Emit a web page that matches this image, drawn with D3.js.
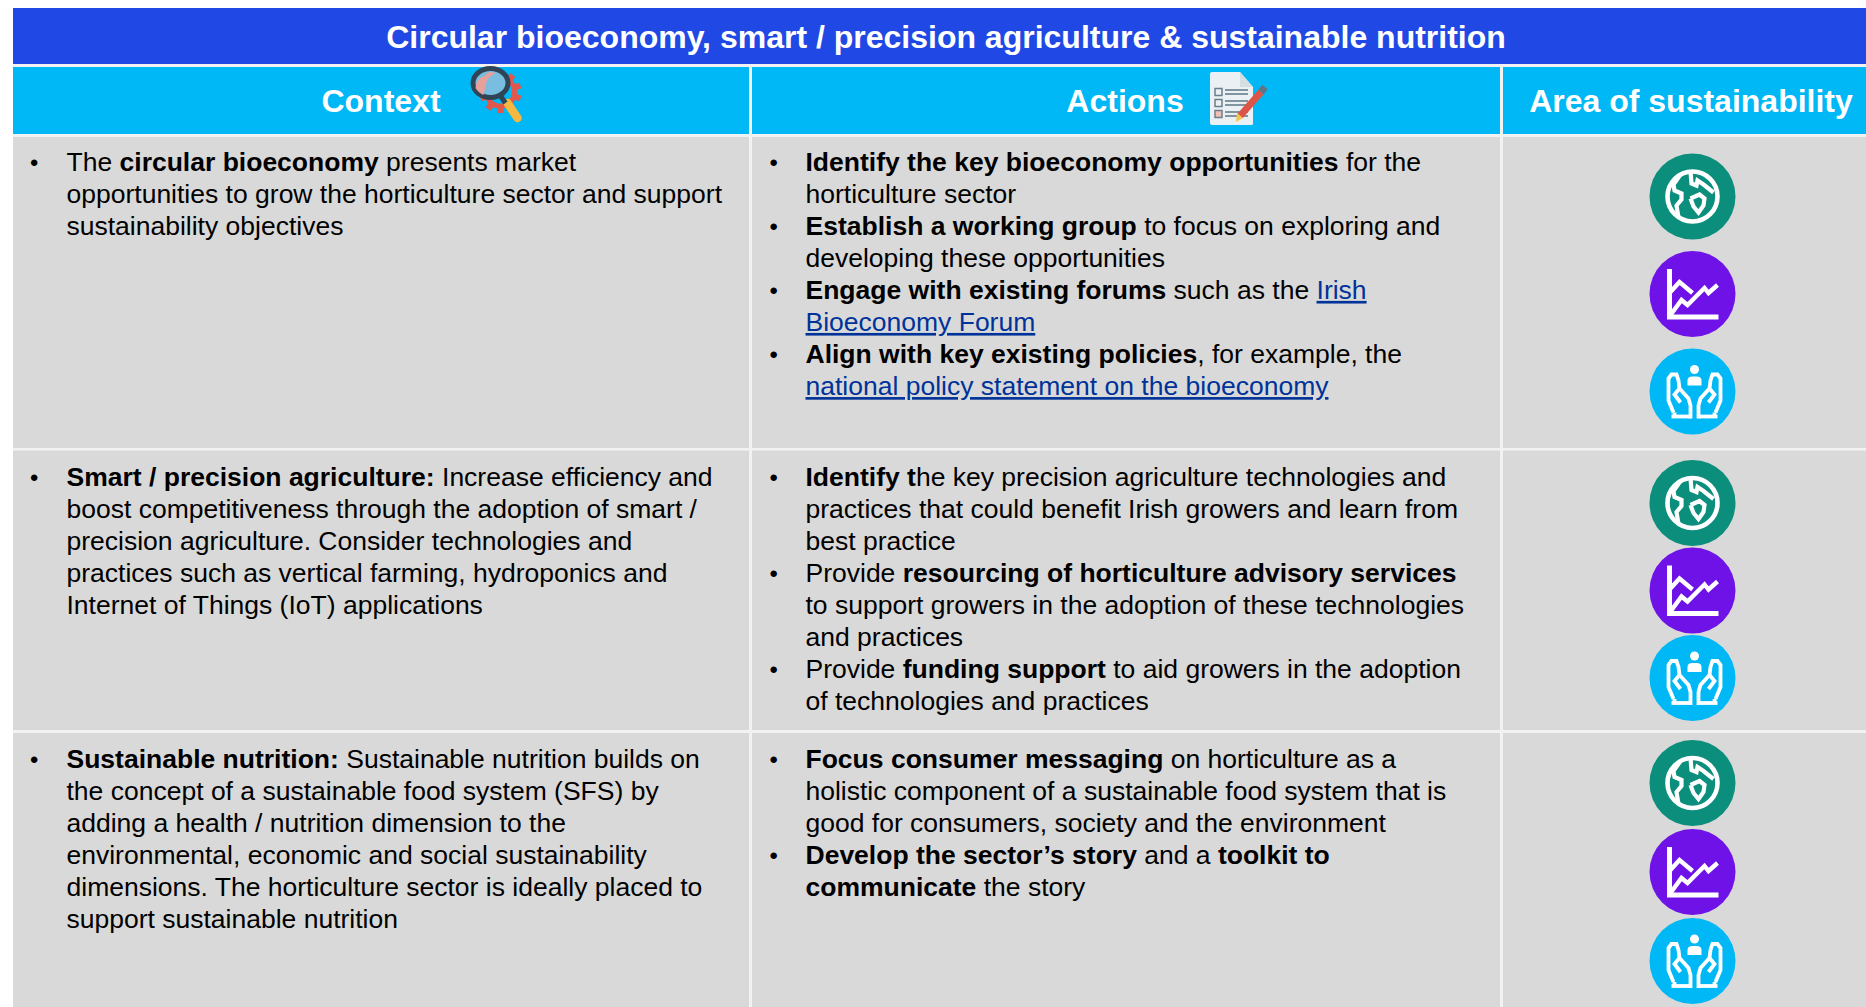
<!DOCTYPE html>
<html><head><meta charset="utf-8">
<script src="https://cdn.jsdelivr.net/npm/d3@7"></script>
<style>html,body{margin:0;padding:0;background:#fff;overflow:hidden}svg{display:block}text{font-family:"Liberation Sans",Arial,sans-serif;text-decoration-skip-ink:none}tspan{text-decoration-skip-ink:none}</style>
</head><body><svg id="c" width="1866" height="1007"></svg>
<script>
// ---- content (b = bold, n = normal, a = link); a line starting with "•" opens a bullet
const title = "Circular bioeconomy, smart / precision agriculture & sustainable nutrition";
const headers = ["Context", "Actions", "Area of sustainability"];
const contextLines = [
 [
  ["•", ["n","The "],["b","circular bioeconomy"],["n"," presents market"]],
  ["", ["n","opportunities to grow the horticulture sector and support"]],
  ["", ["n","sustainability objectives"]]
 ],[
  ["•", ["b","Smart / precision agriculture:"],["n"," Increase efficiency and"]],
  ["", ["n","boost competitiveness through the adoption of smart /"]],
  ["", ["n","precision agriculture. Consider technologies and"]],
  ["", ["n","practices such as vertical farming, hydroponics and"]],
  ["", ["n","Internet of Things (IoT) applications"]]
 ],[
  ["•", ["b","Sustainable nutrition:"],["n"," Sustainable nutrition builds on"]],
  ["", ["n","the concept of a sustainable food system (SFS) by"]],
  ["", ["n","adding a health / nutrition dimension to the"]],
  ["", ["n","environmental, economic and social sustainability"]],
  ["", ["n","dimensions. The horticulture sector is ideally placed to"]],
  ["", ["n","support sustainable nutrition"]]
 ]];
const actionLines = [
 [
  ["•", ["b","Identify the key bioeconomy opportunities"],["n"," for the"]],
  ["", ["n","horticulture sector"]],
  ["•", ["b","Establish a working group"],["n"," to focus on exploring and"]],
  ["", ["n","developing these opportunities"]],
  ["•", ["b","Engage with existing forums"],["n"," such as the "],["a","Irish"]],
  ["", ["a","Bioeconomy Forum"]],
  ["•", ["b","Align with key existing policies"],["n",", for example, the"]],
  ["", ["a","national policy statement on the bioeconomy"]]
 ],[
  ["•", ["b","Identify t"],["n","he key precision agriculture technologies and"]],
  ["", ["n","practices that could benefit Irish growers and learn from"]],
  ["", ["n","best practice"]],
  ["•", ["n","Provide "],["b","resourcing of horticulture advisory services"]],
  ["", ["n","to support growers in the adoption of these technologies"]],
  ["", ["n","and practices"]],
  ["•", ["n","Provide "],["b","funding support"],["n"," to aid growers in the adoption"]],
  ["", ["n","of technologies and practices"]]
 ],[
  ["•", ["b","Focus consumer messaging"],["n"," on horticulture as a"]],
  ["", ["n","holistic component of a sustainable food system that is"]],
  ["", ["n","good for consumers, society and the environment"]],
  ["•", ["b","Develop the sector’s story"],["n"," and a "],["b","toolkit to"]],
  ["", ["b","communicate"],["n"," the story"]]
 ]];
const areaIcons = ["globe","chart","hands"];

// ---- layout
const X0=13, W=1866, colSep=[750.5,1501.5];
const rowTops=[137,450.5,733], rowBottoms=[448,730,1007];
const baselines=[170.7,486,768], lineH=32.05;
const iconY=[[196.5,294,391.5],[503,590.5,678],[783,872,961]];
const fs=26.5;
const C={title:"#1F48E5",head:"#00B8F6",body:"#D9D9D9",sep:"#F2F2F2",link:"#003399",teal:"#0B8E7B",purple:"#6E12E8",blue:"#00B8F6"};
const svg=d3.select("#c");

svg.append("rect").attr("x",X0).attr("y",64).attr("width",W-X0).attr("height",W).attr("fill",C.sep);
svg.append("rect").attr("x",X0).attr("y",8).attr("width",W-X0).attr("height",56).attr("fill",C.title);
svg.append("text").attr("x",946).attr("y",48).attr("text-anchor","middle").attr("fill","#fff").attr("font-weight","700").attr("font-size",32).text(title);

const cols=[[X0,colSep[0]-1.5],[colSep[0]+1.5,colSep[1]-1.5],[colSep[1]+1.5,W]];
svg.selectAll(".h").data(cols).join("rect").attr("x",d=>d[0]).attr("y",67).attr("width",d=>d[1]-d[0]).attr("height",67).attr("fill",C.head);
const headX=[381,1125,1691];
svg.selectAll(".ht").data(headers).join("text").attr("x",(d,i)=>headX[i]).attr("y",112).attr("text-anchor","middle").attr("fill","#fff").attr("font-weight","700").attr("font-size",32).text(d=>d);

rowTops.forEach((t,r)=>{
  svg.selectAll(null).data(cols).join("rect").attr("x",d=>d[0]).attr("y",t).attr("width",d=>d[1]-d[0]).attr("height",rowBottoms[r]-t).attr("fill",C.body);
});

function drawLines(lines,base,bx,tx){
  const y=d3.scaleLinear().domain([0,1]).range([base,base+lineH]);
  lines.forEach((ln,i)=>{
    if(ln[0]) svg.append("text").attr("x",bx).attr("y",y(i)).attr("font-size",fs*0.9).text(ln[0]);
    const t=svg.append("text").attr("x",tx).attr("y",y(i)).attr("font-size",fs).attr("xml:space","preserve").style("white-space","pre");
    t.selectAll("tspan").data(ln.slice(1)).join("tspan")
      .attr("font-weight",d=>d[0]=="b"?700:400)
      .attr("fill",d=>d[0]=="a"?C.link:"#000")
      .attr("text-decoration",d=>d[0]=="a"?"underline":null)
      .text(d=>d[1]);
  });
}
contextLines.forEach((l,r)=>drawLines(l,baselines[r],30,66.5));
actionLines.forEach((l,r)=>drawLines(l,baselines[r],769.5,805.5));

// ---- area icons
function icon(g,kind){
  const line=d3.line();
  const stroke=(pts,sw=4)=>g.append("path").attr("d",line(pts)).attr("fill","none").attr("stroke","#fff").attr("stroke-width",sw).attr("stroke-linejoin","miter");
  if(kind=="globe"){
    g.append("circle").attr("r",43).attr("fill",C.teal);
    g.append("circle").attr("r",25).attr("fill","none").attr("stroke","#fff").attr("stroke-width",4.6);
    stroke([[-12,-22],[-19,-12],[-18,-6],[-11,-3],[-11,3],[-16,9],[-14,21]],4.2);
    stroke([[-2,-25],[-1,-13],[4,-11],[5,-16],[11,-12],[21,-4]],4.2);
    stroke([[-2,2],[7,-2],[12,2],[11,9],[6,16],[1,10],[-2,2]],4.2);
  } else if(kind=="chart"){
    g.append("circle").attr("r",43).attr("fill",C.purple);
    stroke([[-23,-25],[-23,23],[26,23]],5);
    stroke([[-23,-1],[-13,-12],[0,-1]],4.4);
    stroke([[-22,21],[-11,6],[-5,11],[12,-6],[16,-1],[25,-9]],4.4);
  } else {
    g.append("circle").attr("r",43).attr("fill",C.blue);
    const h=g.append("g").attr("transform","translate(2,0)");
    h.append("circle").attr("cy",-22).attr("r",4.5).attr("fill","#fff");
    h.append("path").attr("d","M-7,-6 L-7,-11 Q-7,-15 -2,-15 L2,-15 Q7,-15 7,-11 L7,-6 Z").attr("fill","#fff");
    [1,-1].forEach(s=>{
      const m=h.append("g").attr("transform",`scale(${s},1)`);
      const hp=(pts)=>m.append("path").attr("d",line(pts)).attr("fill","none").attr("stroke","#fff").attr("stroke-width",3.8);
      hp([[-21,21],[-26,9],[-26,-13],[-23,-17],[-18,-17],[-16,-11],[-15,-3],[-6,7],[-4,14],[-4,27]]);
      hp([[-15,-3],[-20,3],[-14,11]]);
      hp([[-23,25],[-4,25]]);
      hp([[-20,21],[-20,25]]);
    });
  }
}
iconY.forEach(ys=>ys.forEach((y,i)=>{
  icon(svg.append("g").attr("transform",`translate(1692.5,${y})`),areaIcons[i]);
}));

// magnifier
(function(){
  const g=svg.append("g").attr("transform","translate(490.5,83)");
  const gear=g.append("g").attr("transform","translate(10,9)");
  gear.selectAll("rect").data(d3.range(10)).join("rect").attr("x",-3).attr("y",-21).attr("width",6).attr("height",6).attr("fill","#E2574C").attr("transform",d=>`rotate(${d*36}) `);
  gear.append("circle").attr("r",14).attr("fill","none").attr("stroke","#E2574C").attr("stroke-width",5);
  g.append("path").attr("d","M17,20 L27,35").attr("stroke","#F4B73F").attr("stroke-width",8.5).attr("stroke-linecap","round");
  g.append("path").attr("d","M10,13 L15,20").attr("stroke","#2F4454").attr("stroke-width",5);
  g.append("ellipse").attr("rx",17.5).attr("ry",14.5).attr("fill","#79BDE0").attr("stroke","#2F4454").attr("stroke-width",5);
  g.append("path").attr("d","M-15,5 Q-14,-5 -6,-7 L-2,-11 L6,-10 Q-4,-7 -5,3 L-7,12 Q-12,10 -15,5Z").attr("fill","#E8A09A");
})();
// checklist
(function(){
  const g=svg.append("g").attr("transform","translate(1210,72)");
  g.append("path").attr("d","M0,2 Q0,0 2,0 L30,0 L43,15 L43,52 Q43,53 41,53 L2,53 Q0,53 0,51Z").attr("fill","#EAF0F3");
  g.append("path").attr("d","M30,0 L43,15 L30,15Z").attr("fill","#D5DEE3");
  [20,31,42].forEach((y,i)=>{
    g.append("rect").attr("x",5).attr("y",y-3.5).attr("width",7).attr("height",7).attr("fill",i==2?"#F0C0B8":"none").attr("stroke","#6A7F8C").attr("stroke-width",1.5);
    g.append("path").attr("d",`M15,${y-2}H38M15,${y+2}H38`).attr("stroke","#5F7585").attr("stroke-width",1.3);
  });
  g.append("path").attr("d","M30,44 L51,20").attr("stroke","#DC5546").attr("stroke-width",7);
  g.append("path").attr("d","M51,20 L55,15").attr("stroke","#5F7585").attr("stroke-width",7);
  g.append("path").attr("d","M26,50 L27,41 L33,46Z").attr("fill","#F5C64A");
})();
</script></body></html>
